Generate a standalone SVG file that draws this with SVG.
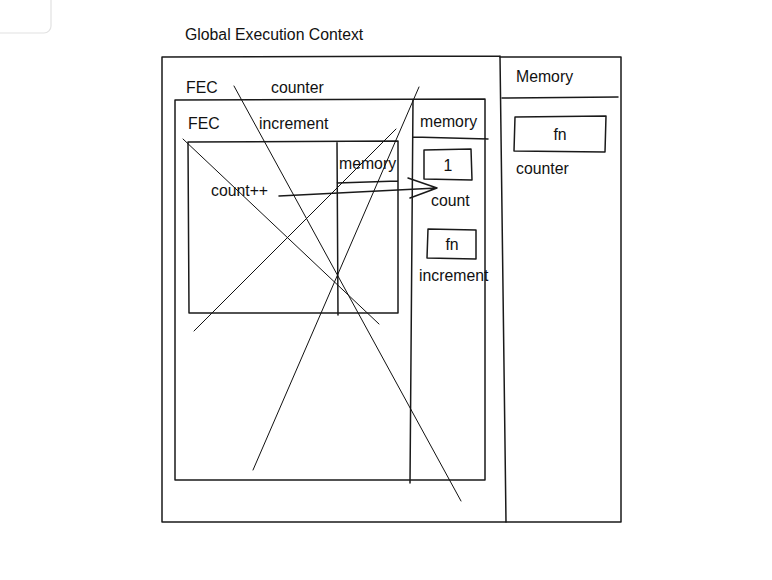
<svg xmlns="http://www.w3.org/2000/svg" width="772" height="580" viewBox="0 0 772 580">
<style>
.b{fill:none;stroke:#1a1a1a;stroke-width:1.5;stroke-linecap:round;stroke-linejoin:round}
.x{fill:none;stroke:#111;stroke-width:1;stroke-linecap:round}
text{font-family:"Liberation Sans",Arial,sans-serif;font-size:15.8px;fill:#111}
.c{text-anchor:middle}
</style>
<rect width="772" height="580" fill="#fff"/>
<rect x="-12" y="-12" width="63" height="45" rx="7" fill="#fff" stroke="#e2e2e2" stroke-width="1.2"/>
<g id="title"><text x="185" y="40">Global Execution Context</text></g>
<g id="global-ec">
<path class="b" d="M162,57 L500,56 M162,57 L162,522 L506,522 M500,56 L506,522"/>
<text x="186" y="93">FEC</text>
<text x="271" y="93">counter</text>
</g>
<g id="global-memory">
<path class="b" d="M500,57 L621,57 L621,522 L506,522 M502,98 L618,97"/>
<text x="516" y="82">Memory</text>
</g>
<g id="global-fn"><path class="b" d="M515,117 L606,116 L605,152 L514,151 Z"/><text class="c" x="560" y="140">fn</text><text x="516" y="174">counter</text></g>
<g id="fec-counter">
<path class="b" d="M175,100 L485,99 L485,480 L175,480 Z M413,100 L410,483 M413,137 L488,139"/>
<text x="188" y="129">FEC</text>
<text x="259" y="129">increment</text>
<text x="420" y="127">memory</text>
</g>
<g id="count-box"><path class="b" d="M424,150 L471,149 L472,180 L424,179 Z"/><text class="c" x="448" y="171">1</text><text x="431" y="206">count</text></g>
<g id="increment-box"><path class="b" d="M428,229 L476,230 L476,259 L427,258 Z"/><text class="c" x="452" y="250">fn</text><text x="419" y="281">increment</text></g>
<g id="fec-increment">
<path class="b" d="M188,142 L398,141 L398,313 L189,313 Z M337,142 L338,315 M337,183 L398,181"/>
<text x="339" y="169">memory</text>
<text x="211" y="196">count++</text>
</g>
<g id="connectors">
<path class="b" d="M279,196 L437,188 M408,178 L437,188 L410,198"/>
<path class="x" d="M234,86 L461,501"/>
<path class="x" d="M419,87 L253,470"/>
<path class="x" d="M183,139 L379,324"/>
<path class="x" d="M396,129 L194,331"/>
</g>
</svg>
